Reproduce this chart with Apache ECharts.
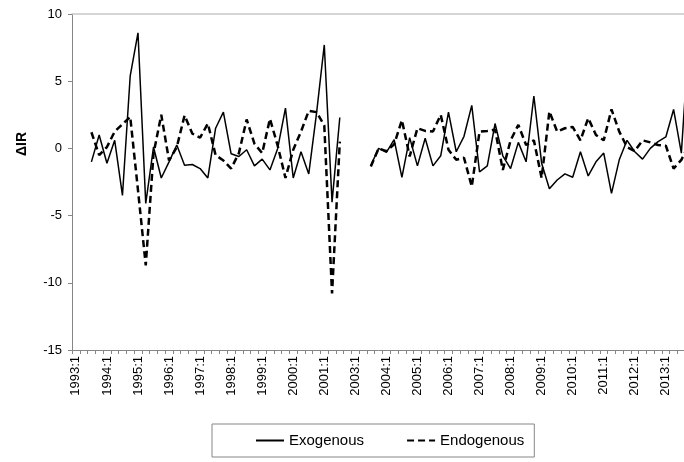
<!DOCTYPE html>
<html><head><meta charset="utf-8">
<script src="https://cdn.jsdelivr.net/npm/echarts@6/dist/echarts.min.js"></script>
<style>html,body{margin:0;padding:0;background:#fff}#c{width:684px;height:462px}</style>
</head><body><div id="c"></div>
<script>
const years = [1993,1994,1995,1996,1997,1998,1999,2000,2001,2003,2004,2005,2006,2007,2008,2009,2010,2011,2012,2013];
const quarters = [1,2,3,4];
const categories = [];
years.forEach(y => quarters.forEach(q => categories.push(y + ':' + q)));

const exogenous = [
  null, null, -1.0, 1.0, -1.1, 0.6, -3.5, 5.4,
  8.6, -4.1, 0.1, -2.2, -1.0, 0.25, -1.25, -1.2,
  -1.5, -2.2, 1.5, 2.7, -0.4, -0.6, -0.1, -1.3,
  -0.8, -1.6, 0.0, 3.0, -2.2, -0.25, -1.9, 2.6,
  7.7, -4.0, 2.3, null, null, null, -1.25, 0.0,
  -0.3, 0.65, -2.15, 0.8, -1.3, 0.75, -1.3, -0.55,
  2.7, -0.25, 0.9, 3.2, -1.75, -1.3, 1.85, -0.55,
  -1.5, 0.45, -1.0, 3.9, -1.1, -3.0, -2.35, -1.9,
  -2.15, -0.25, -2.05, -1.0, -0.35, -3.35, -0.85, 0.6,
  -0.25, -0.8, 0.0, 0.5, 0.85, 2.9, -0.35, 8.5
];
const endogenous = [
  null, null, 1.2, -0.5, 0.1, 1.25, 1.8, 2.35,
  -3.1, -8.7, -0.4, 2.5, -0.9, 0.1, 2.45, 1.1,
  0.8, 1.85, -0.5, -0.9, -1.5, -0.35, 2.15, 0.35,
  -0.35, 2.2, 0.2, -2.2, -0.1, 1.25, 2.8, 2.7,
  1.7, -10.8, 0.5, null, null, null, -1.35, 0.0,
  -0.2, 0.3, 2.1, -0.6, 1.5, 1.3, 1.25, 2.5,
  -0.1, -0.85, -0.7, -2.85, 1.25, 1.3, 1.4, -1.6,
  0.6, 1.75, 0.25, 0.6, -2.2, 2.75, 1.25, 1.5,
  1.6, 0.6, 2.25, 1.0, 0.6, 2.9, 1.25, 0.1,
  -0.2, 0.6, 0.45, 0.25, 0.2, -1.5, -0.85, 0.3
];
const yMin = -15, yMax = 10, yStep = 5;
const seriesNames = ['Exogenous', 'Endogenous'];
const FONT = 'Liberation Sans, Arial, sans-serif';
const AXIS_GRAY = '#868686';

const chart = echarts.init(document.getElementById('c'), null, {renderer: 'canvas'});
chart.setOption({
  animation: false,
  backgroundColor: '#fff',
  textStyle: {fontFamily: FONT},
  grid: {left: 72, right: -9, top: 14, bottom: 112, containLabel: false, outerBoundsMode: 'none'},
  xAxis: [{
    type: 'category',
    data: categories,
    boundaryGap: true,
    position: 'bottom',
    axisLine: {show: true, onZero: false, lineStyle: {color: AXIS_GRAY, width: 1}},
    axisTick: {show: true, interval: 0, length: 4, lineStyle: {color: AXIS_GRAY}},
    axisLabel: {interval: 3, rotate: 90, fontSize: 13, color: '#000', margin: 6, fontFamily: FONT},
    splitLine: {show: false}
  }, {
    type: 'category',
    data: categories,
    position: 'top',
    axisLine: {show: true, onZero: false, lineStyle: {color: '#c8c8c8', width: 1.5}},
    axisTick: {show: false},
    axisLabel: {show: false},
    splitLine: {show: false}
  }],
  yAxis: {
    type: 'value',
    min: yMin, max: yMax, interval: yStep,
    axisLine: {show: true, onZero: false, lineStyle: {color: AXIS_GRAY, width: 1}},
    axisTick: {show: true, length: 4, lineStyle: {color: AXIS_GRAY}},
    axisLabel: {fontSize: 13, color: '#000', margin: 10, fontFamily: FONT},
    splitLine: {show: false}
  },
  legend: {
    left: 212, top: 424,
    itemWidth: 28, itemHeight: 14, itemGap: 42,
    padding: [9, 10, 9, 43],
    borderColor: AXIS_GRAY, borderWidth: 1,
    itemStyle: {opacity: 0},
    textStyle: {fontSize: 15, color: '#000', fontFamily: FONT},
    data: seriesNames
  },
  graphic: [{
    type: 'text', x: 22, y: 144, rotation: Math.PI / 2,
    style: {text: 'ΔIR', font: 'bold 14px Liberation Sans, Arial, sans-serif', fill: '#000', align: 'center', verticalAlign: 'middle'}
  }],
  series: [{
    name: seriesNames[0], type: 'line', data: exogenous,
    xAxisIndex: 0, symbol: 'none', showSymbol: false, connectNulls: false,
    lineStyle: {color: '#000', width: 1.5, type: 'solid'},
    itemStyle: {color: '#000'}
  }, {
    name: seriesNames[1], type: 'line', data: endogenous,
    xAxisIndex: 0, symbol: 'none', showSymbol: false, connectNulls: false,
    lineStyle: {color: '#000', width: 2.5, type: [7, 4]},
    itemStyle: {color: '#000'}
  }]
});
</script>
</body></html>
